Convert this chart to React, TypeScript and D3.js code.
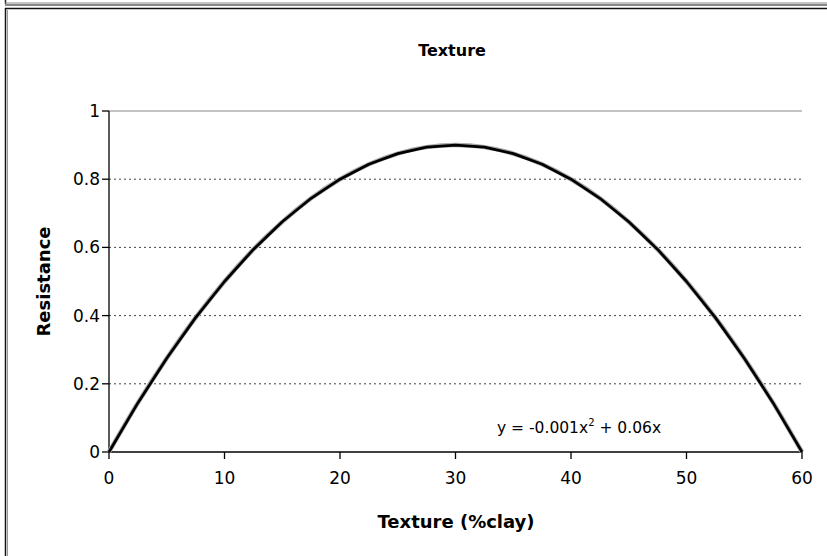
import React from "react";
import * as d3 from "d3";

// Clay content (%) and resistance values of the texture response curve
const clayPct = [0, 2.5, 5, 7.5, 10, 12.5, 15, 17.5, 20, 22.5, 25, 27.5, 30, 32.5, 35, 37.5, 40, 42.5, 45, 47.5, 50, 52.5, 55, 57.5, 60];
const resistance = [0, 0.144, 0.275, 0.394, 0.5, 0.594, 0.675, 0.744, 0.8, 0.844, 0.875, 0.894, 0.9, 0.894, 0.875, 0.844, 0.8, 0.744, 0.675, 0.594, 0.5, 0.394, 0.275, 0.144, 0];

const xTicks = [0, 10, 20, 30, 40, 50, 60];
const yTicks = [0, 0.2, 0.4, 0.6, 0.8, 1];
const yTickLabels = ["0", "0.2", "0.4", "0.6", "0.8", "1"];

const title = "Texture";
const xTitle = "Texture (%clay)";
const yTitle = "Resistance";

const W = 827;
const H = 556;
const plot = { left: 109, right: 802, top: 111, bottom: 452 };
const font = "'DejaVu Sans', Verdana, sans-serif";

export default function App() {
  const x = d3.scaleLinear().domain([0, 60]).range([plot.left, plot.right]);
  const y = d3.scaleLinear().domain([0, 1]).range([plot.bottom, plot.top]);
  const pts: [number, number][] = clayPct.map((c, i) => [c, resistance[i]]);

  const line = d3
    .line<[number, number]>()
    .x((d) => x(d[0]))
    .y((d) => y(d[1]));
  const smooth = d3
    .line<[number, number]>()
    .x((d) => x(d[0]))
    .y((d) => y(d[1]))
    .curve(d3.curveMonotoneX);

  return (
    <svg
      width={W}
      height={H}
      style={{ position: "absolute", left: 0, top: 0, background: "#fff" }}
    >
      <rect x={0} y={0} width={W} height={H} fill="#fff" />
      {/* frame edges */}
      <line x1={5.5} y1={0} x2={5.5} y2={4} stroke="#222" strokeWidth={1.5} />
      <line x1={5} y1={3} x2={W} y2={3} stroke="#888" strokeWidth={1} />
      <line x1={5} y1={5} x2={W} y2={5} stroke="#111" strokeWidth={1.2} />
      <line x1={5} y1={8.5} x2={W} y2={8.5} stroke="#111" strokeWidth={1.5} />
      <line x1={5.5} y1={8} x2={5.5} y2={H} stroke="#111" strokeWidth={1.5} />
      <line x1={7.5} y1={10} x2={7.5} y2={H} stroke="#999" strokeWidth={1} />

      {/* title */}
      <text x={452} y={56} textAnchor="middle" fontFamily={font} fontWeight="bold" fontSize={16} fill="#000">
        {title}
      </text>

      {/* gridlines */}
      {yTicks.map((t) =>
        t === 0 ? null : (
          <line
            key={`g${t}`}
            x1={plot.left}
            x2={plot.right}
            y1={y(t)}
            y2={y(t)}
            stroke={t === 1 ? "#888" : "#444"}
            strokeWidth={1}
            strokeDasharray={t === 1 ? undefined : "2,3"}
          />
        )
      )}

      {/* axes */}
      <line x1={plot.left} x2={plot.left} y1={plot.top} y2={plot.bottom} stroke="#000" strokeWidth={1.3} />
      <line x1={plot.left} x2={plot.right} y1={plot.bottom} y2={plot.bottom} stroke="#000" strokeWidth={1.3} />
      {yTicks.map((t, i) => (
        <g key={`y${t}`}>
          <line x1={plot.left - 7} x2={plot.left} y1={y(t)} y2={y(t)} stroke="#000" strokeWidth={1.3} />
          <text x={plot.left - 9} y={y(t) + 6} textAnchor="end" fontFamily={font} fontSize={17} fill="#000">
            {yTickLabels[i]}
          </text>
        </g>
      ))}
      {xTicks.map((t) => (
        <g key={`x${t}`}>
          <line x1={x(t)} x2={x(t)} y1={plot.bottom} y2={plot.bottom + 7} stroke="#000" strokeWidth={1.3} />
          <text x={x(t)} y={plot.bottom + 32} textAnchor="middle" fontFamily={font} fontSize={17} fill="#000">
            {t}
          </text>
        </g>
      ))}

      {/* axis titles */}
      <text x={456} y={528} textAnchor="middle" fontFamily={font} fontWeight="bold" fontSize={18} fill="#000">
        {xTitle}
      </text>
      <text
        transform={`translate(50, ${(plot.top + plot.bottom) / 2}) rotate(-90)`}
        textAnchor="middle"
        fontFamily={font}
        fontWeight="bold"
        fontSize={18}
        fill="#000"
      >
        {yTitle}
      </text>

      {/* trendline and series */}
      <path d={smooth(pts) ?? ""} fill="none" stroke="#aaa" strokeWidth={4.5} />
      <path d={line(pts) ?? ""} fill="none" stroke="#000" strokeWidth={2.7} strokeLinejoin="round" />

      {/* trendline equation */}
      <text x={497} y={433} fontFamily={font} fontSize={15.5} fill="#000">
        y = -0.001x<tspan dy={-7} fontSize={10}>2</tspan>
        <tspan dy={7}> + 0.06x</tspan>
      </text>
    </svg>
  );
}
